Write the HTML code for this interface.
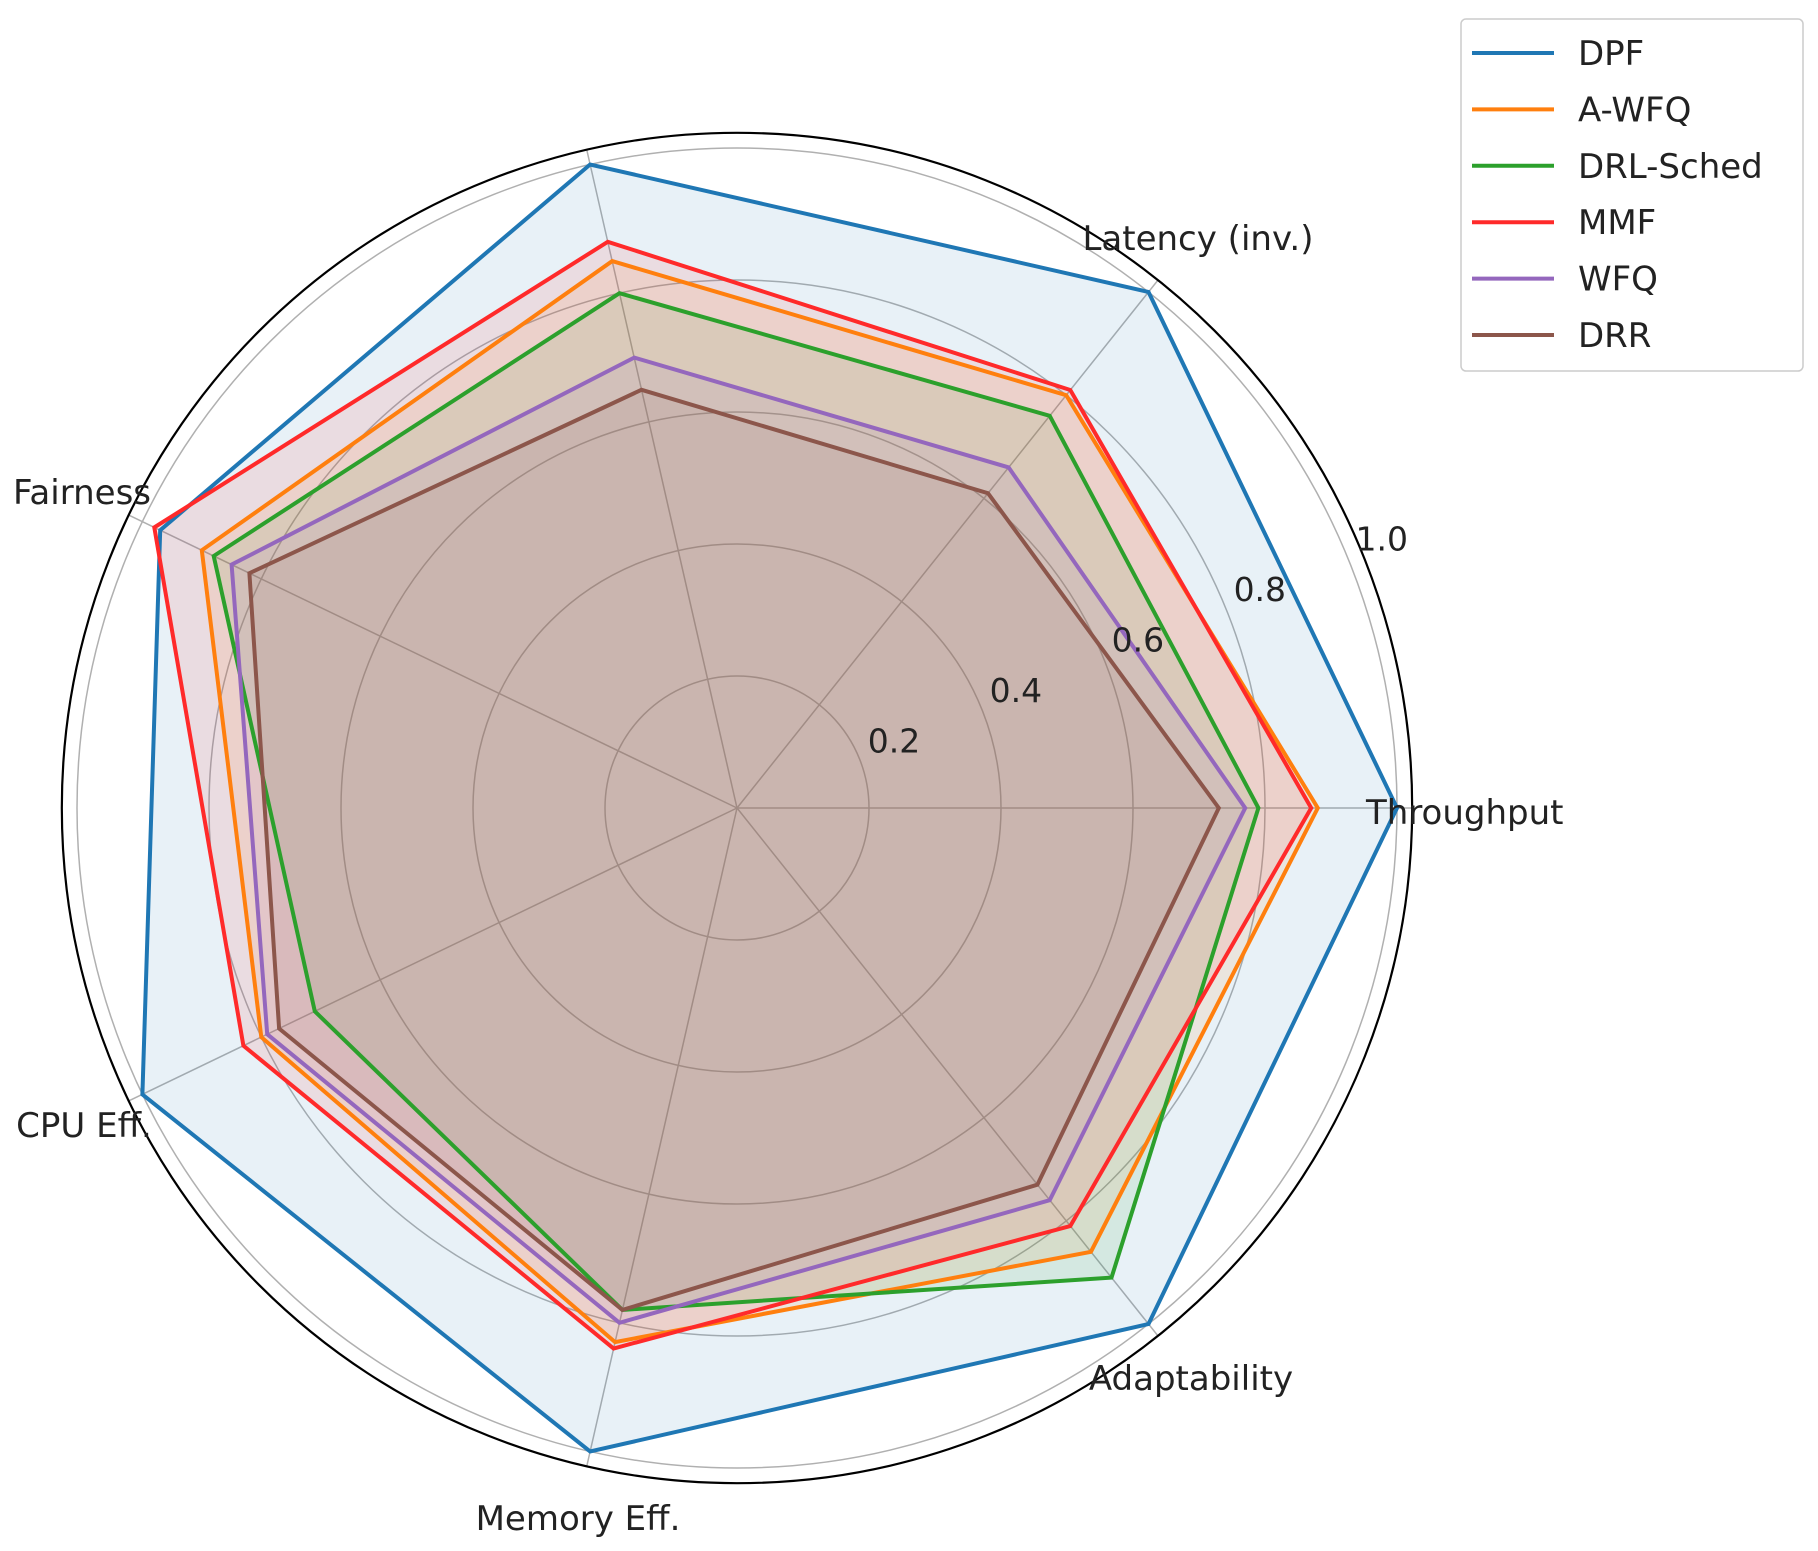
<!DOCTYPE html>
<html><head><meta charset="utf-8"><style>
html,body{margin:0;padding:0;background:#fff;}
svg{display:block;font-family:"DejaVu Sans","Liberation Sans",sans-serif;}
</style></head><body>
<svg id="chart" width="1818" height="1551" viewBox="0 0 1818 1551" xmlns="http://www.w3.org/2000/svg">
<g id="grid"></g>
<g id="series"></g>
<g id="labels"></g>
<g id="legend"></g>
</svg>
<script>
const categories = ["Throughput","Latency (inv.)","","Fairness","CPU Eff.","Memory Eff.","Adaptability"];
const seriesNames = ["DPF","A-WFQ","DRL-Sched","MMF","WFQ","DRR"];
const dpfValues = [1.0,1.0,1.0,0.97,1.0,1.0,1.0];
const awfqValues = [0.88,0.80,0.85,0.90,0.80,0.83,0.86];
const drlValues = [0.79,0.76,0.80,0.88,0.71,0.78,0.91];
const mmfValues = [0.87,0.81,0.88,0.98,0.83,0.84,0.81];
const wfqValues = [0.77,0.66,0.70,0.85,0.79,0.80,0.76];
const drrValues = [0.73,0.61,0.65,0.82,0.77,0.78,0.73];
const tickValues = [0.2,0.4,0.6,0.8,1.0];
const tickLabels = ["0.2","0.4","0.6","0.8","1.0"];

const allValues=[dpfValues,awfqValues,drlValues,mmfValues,wfqValues,drrValues];
const colors=["#1f77b4","#ff7f0e","#2ca02c","#ff2a2a","#9467bd","#8c564b"];
const NS="http://www.w3.org/2000/svg";
const cx=737, cy=808, R=660, rMax=1.023;
function ang(i){return 2*Math.PI*i/categories.length;}
function px(v,i){return cx+R*v*Math.cos(ang(i));}
function py(v,i){return cy-R*v*Math.sin(ang(i));}
function mk(tag,attrs,parent){const e=document.createElementNS(NS,tag);for(const k in attrs)e.setAttribute(k,attrs[k]);parent.appendChild(e);return e;}

const grid=document.getElementById('grid');
tickValues.forEach((t,k)=>{
  const c=mk('circle',{cx:cx,cy:cy,r:R*t,fill:'none',stroke:'#b0b0b0','stroke-width':1.5},grid);
  
  
});
categories.forEach((c,i)=>{
  const l=mk('line',{x1:cx,y1:cy,x2:px(rMax,i),y2:py(rMax,i),stroke:'#b0b0b0','stroke-width':1.5},grid);
  
  
});
const sp=mk('circle',{cx:cx,cy:cy,r:R*rMax,fill:'none',stroke:'#000','stroke-width':2.2},grid);



const ser=document.getElementById('series');
allValues.forEach((vals,s)=>{
  const pts=vals.map((v,i)=>px(v,i).toFixed(1)+','+py(v,i).toFixed(1)).join(' ');
  const f=mk('polygon',{points:pts,fill:colors[s],'fill-opacity':0.1,stroke:'none'},ser);
  
  
});
allValues.forEach((vals,s)=>{
  const pts=vals.map((v,i)=>px(v,i).toFixed(1)+','+py(v,i).toFixed(1)).join(' ');
  const p=mk('polygon',{points:pts,fill:'none',stroke:colors[s],'stroke-width':4,'stroke-linejoin':'miter'},ser);
  
  
});

const lab=document.getElementById('labels');
const ta=22.5*Math.PI/180;
tickValues.forEach((t,k)=>{
  const x=cx+R*t*Math.cos(ta)+35, y=cy-R*t*Math.sin(ta)-17+12;
  const e=mk('text',{x:x,y:y,'text-anchor':'middle','font-size':33,fill:'#222'},lab);
  e.textContent=tickLabels[k];
  
  
});
const labelPos=[[1366,824,'start'],[1198,250,'middle'],[740,30,'middle'],[82,504,'middle'],[84,1137,'middle'],[578,1530,'middle'],[1191,1390,'middle']];
categories.forEach((c,i)=>{
  if(!c)return;
  const e=mk('text',{x:labelPos[i][0],y:labelPos[i][1],'text-anchor':labelPos[i][2],'font-size':34,fill:'#222'},lab);
  e.textContent=c;
  
  
});

const lg=document.getElementById('legend');
const box=mk('rect',{x:1461,y:19,width:342,height:352,rx:5,fill:'#fff','fill-opacity':0.85,stroke:'#ccc','stroke-width':1.5},lg);


seriesNames.forEach((n,s)=>{
  const y=53+s*56.4;
  const g=mk('g',{},lg);
  
  
  mk('line',{x1:1472,y1:y,x2:1554,y2:y,stroke:colors[s],'stroke-width':4},g);
  const t=mk('text',{x:1578,y:y+12,'font-size':34,fill:'#222'},g);
  t.textContent=n;
});
</script>
</body></html>
